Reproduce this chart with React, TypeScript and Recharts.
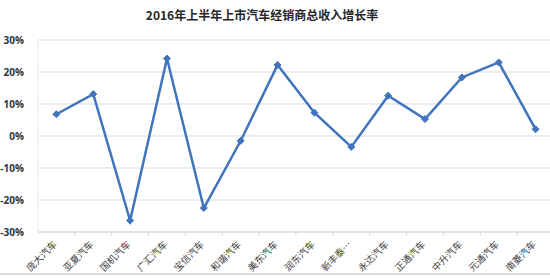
import { CartesianGrid, Line, LineChart, XAxis, YAxis } from "recharts";

const dealers = [
  "庞大汽车",
  "亚夏汽车",
  "国机汽车",
  "广汇汽车",
  "宝信汽车",
  "和谐汽车",
  "美东汽车",
  "润东汽车",
  "新丰泰…",
  "永达汽车",
  "正通汽车",
  "中升汽车",
  "元通汽车",
  "南菱汽车",
];

// 增长率 (%)
const growth = [6.8, 13.1, -26.4, 24.2, -22.5, -1.5, 22.2, 7.3, -3.4, 12.6, 5.3, 18.3, 23.0, 2.1];

const yTicks = [-30, -20, -10, 0, 10, 20, 30];

const LINE_COLOR = "#4074BC";
const HALF_BAND = 18.4;

const data = dealers.map((name, i) => ({ name, value: growth[i] }));

function DealerTick(props: any) {
  const { x, y, payload } = props;
  return (
    <g>
      <line x1={x + HALF_BAND} y1={y - 8} x2={x + HALF_BAND} y2={y - 4} stroke="#d9d9d9" />
      <text
        x={x + 1}
        y={y + 5}
        transform={`rotate(-45, ${x + 1}, ${y + 5})`}
        textAnchor="end"
        fontSize={9.5}
        fill="#404040"
        fontFamily="'Noto Sans CJK SC', sans-serif"
      >
        {payload.value}
      </text>
    </g>
  );
}

function Diamond(props: any) {
  const { cx, cy } = props;
  if (cx == null || cy == null) return null;
  const r = 3.5;
  return (
    <path
      d={`M${cx},${cy - r}L${cx + r},${cy}L${cx},${cy + r}L${cx - r},${cy}Z`}
      fill={LINE_COLOR}
      stroke={LINE_COLOR}
    />
  );
}

export default function App() {
  return (
    <div
      style={{
        position: "absolute",
        left: 0,
        top: 0,
        width: 550,
        height: 280,
        overflow: "hidden",
        background: "#fff",
      }}
    >
      <div
        style={{
          position: "absolute",
          left: 0,
          width: 524,
          top: 6,
          textAlign: "center",
          fontFamily: "'Noto Sans CJK SC', sans-serif",
          fontWeight: 700,
          fontSize: 12,
          color: "#262626",
        }}
      >
        2016年上半年上市汽车经销商总收入增长率
      </div>
      <LineChart
        width={560}
        height={280}
        data={data}
        margin={{ top: 40, right: 6, bottom: 0, left: 0 }}
      >
        <CartesianGrid vertical={false} stroke="#d9d9d9" />
        <XAxis
          dataKey="name"
          interval={0}
          tickLine={false}
          axisLine={{ stroke: "#d9d9d9" }}
          tick={<DealerTick />}
          padding={{ left: HALF_BAND, right: HALF_BAND }}
          height={48}
        />
        <YAxis
          domain={[-30, 30]}
          ticks={yTicks}
          width={38}
          tickLine={false}
          axisLine={{ stroke: "#ececec" }}
          tickFormatter={(v: number) => `${v}%`}
          tick={{ fontSize: 10, fontWeight: 700, fill: "#333", fontFamily: "'Open Sans', sans-serif" }}
          tickMargin={8}
        />
        <Line
          type="linear"
          dataKey="value"
          stroke={LINE_COLOR}
          strokeWidth={2.5}
          dot={<Diamond />}
          activeDot={false}
          isAnimationActive={false}
        />
      </LineChart>
      <div
        style={{
          position: "absolute",
          left: 0,
          top: 273,
          width: 550,
          height: 2,
          background: "#d9d9d9",
        }}
      />
    </div>
  );
}
